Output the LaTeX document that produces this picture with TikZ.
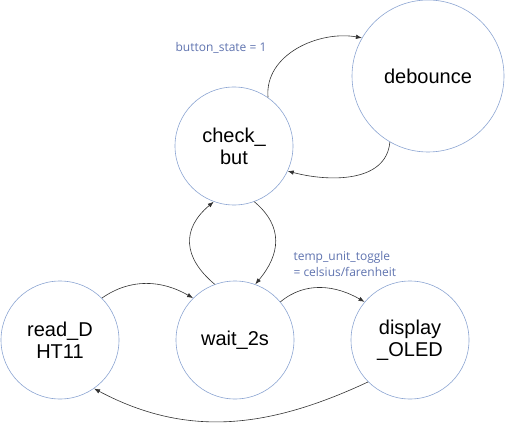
\documentclass[tikz,border=0pt]{standalone}
\usepackage{fontspec}
\setmainfont{Liberation Sans}
\newfontfamily\labelfont{Open Sans}
\usetikzlibrary{arrows.meta}
\definecolor{ringblue}{RGB}{140,165,210}
\definecolor{labelblue}{RGB}{95,115,175}
\begin{document}
\begin{tikzpicture}[x=1pt, y=1pt,
  state/.style={circle, draw=ringblue, line width=0.6pt, minimum size=118pt, inner sep=0pt, align=center, font=\fontsize{20}{22}\selectfont},
  trans/.style={draw=black!80, line width=0.6pt, -{Latex[length=6pt,width=4.5pt]}},
  cond/.style={text=labelblue, font=\labelfont\fontsize{12}{16}\selectfont}]
  \useasboundingbox (0,0) rectangle (510,426);
  \node[state] (cb) at (234,280) {check\_\\but};
  \node[state, minimum size=152pt] (db) at (428,350) {debounce};
  \node[state] (rd) at (60,86) {read\_D\\HT11};
  \node[state] (ws) at (235,86) {wait\_2s};
  \node[state] (dp) at (410,86) {display\\\_OLED};
  \node[cond] (bs) at (221,378) {button\_state = 1};
  \node[cond, align=left, anchor=west] (tu) at (290,162) {temp\_unit\_toggle\\= celsius/farenheit};
  \draw[trans] (cb.55) to[out=95,in=170] (db.150);
  \draw[trans] (db.240) to[out=265,in=-15] (cb.-25);
  \draw[trans] (cb.-70) to[out=-40,in=50,looseness=1.2] (ws.70);
  \draw[trans] (ws.110) to[out=140,in=220,looseness=1.3] (cb.250);
  \draw[trans] (rd.45) to[out=35,in=150] (ws.135);
  \draw[trans] (ws.40) to[out=40,in=150] (dp.140);
  \draw[trans] (dp.225) to[out=205,in=-28] (rd.305);
\end{tikzpicture}
\end{document}
